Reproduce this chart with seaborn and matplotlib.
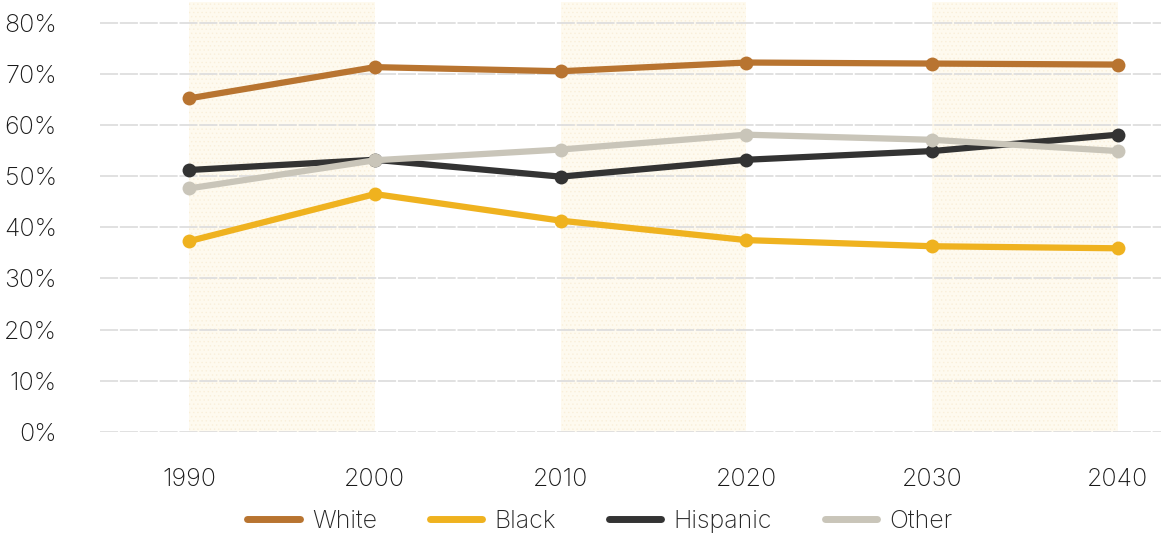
import pandas as pd
import seaborn as sns
import matplotlib.pyplot as plt

years = [1990, 2000, 2010, 2020, 2030, 2040]
white = [65.2, 71.3, 70.5, 72.2, 72.0, 71.8]
black = [37.3, 46.5, 41.3, 37.5, 36.3, 35.9]
hispanic = [51.2, 53.2, 49.9, 53.2, 54.9, 58.1]
other = [47.6, 53.1, 55.2, 58.1, 57.1, 54.9]
groups = ['White', 'Black', 'Hispanic', 'Other']
colors = ['#b87430', '#efb21f', '#333333', '#c9c5b9']

# long format table for seaborn
df = pd.DataFrame({'Year': years * 4,
                   'Share': white + black + hispanic + other,
                   'Group': [g for g in groups for _ in years]})

sns.set_style('white')
plt.rcParams['font.family'] = ['Inter', 'DejaVu Sans']
plt.rcParams['font.weight'] = 'light'
plt.rcParams['hatch.linewidth'] = 0.5

fig = plt.figure(figsize=(11.63, 5.36), dpi=100)
ax = fig.add_axes([0.086, 0.194, 0.912, 0.802])

# shaded decades
for a, b in [(1990, 2000), (2010, 2020), (2030, 2040)]:
    ax.axvspan(a, b, facecolor='#fefaef', edgecolor='#f9efda', hatch='....', lw=0, zorder=0)

sns.lineplot(data=df, x='Year', y='Share', hue='Group', palette=colors,
             marker='o', markersize=10, markeredgewidth=0, linewidth=4.5,
             ax=ax, zorder=3, legend=False)

ax.set_xlim(1985.2, 2042.3)
ax.set_ylim(0, 84)
ax.set_yticks(range(0, 81, 10))
ax.set_yticklabels([f'{v}%' for v in range(0, 81, 10)])
ax.set_xticks(years)
ax.set_xlabel('')
ax.set_ylabel('')
ax.yaxis.grid(True, color='#dedede', lw=1.3, ls=(0, (10, 1)))
ax.set_axisbelow(True)
for s in ax.spines.values():
    s.set_visible(False)
ax.tick_params(axis='y', length=0, pad=31, labelsize=18, labelcolor='#1a1a1a')
ax.tick_params(axis='x', length=0, pad=26, labelsize=18, labelcolor='#1a1a1a')

handles = [plt.Line2D([], [], color=c, lw=5, solid_capstyle='round') for c in colors]
fig.legend(handles, groups, loc='center', bbox_to_anchor=(0.516, 0.027), ncol=4,
           frameon=False, fontsize=18, handlelength=2.1, columnspacing=2.1, handletextpad=0.5)

fig.savefig('out.png', dpi=100)
